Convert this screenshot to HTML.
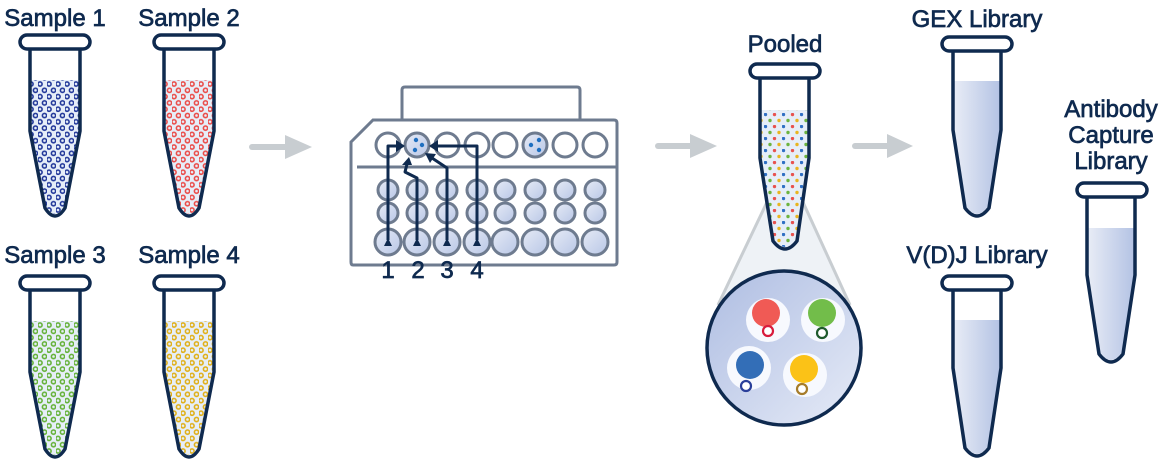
<!DOCTYPE html>
<html><head><meta charset="utf-8"><style>
html,body{margin:0;padding:0;background:#fff;}
svg{display:block;}
text{font-family:"Liberation Sans",sans-serif;fill:#0f2a4f;stroke:#0f2a4f;stroke-width:0.7;}
</style></head><body>
<svg width="1167" height="461" viewBox="0 0 1167 461" xmlns="http://www.w3.org/2000/svg">
<defs>
  <pattern id="pb" width="9" height="12.6" patternUnits="userSpaceOnUse" x="2" y="81">
    <circle cx="2" cy="3" r="2.1" fill="none" stroke="#23399a" stroke-width="1.6"/>
    <circle cx="6.5" cy="9.3" r="2.1" fill="none" stroke="#23399a" stroke-width="1.6"/>
  </pattern>
  <pattern id="pr" width="9" height="12.6" patternUnits="userSpaceOnUse" x="2" y="81">
    <circle cx="2" cy="3" r="2.1" fill="none" stroke="#ea4d4a" stroke-width="1.6"/>
    <circle cx="6.5" cy="9.3" r="2.1" fill="none" stroke="#ea4d4a" stroke-width="1.6"/>
  </pattern>
  <pattern id="pg" width="9" height="12.6" patternUnits="userSpaceOnUse" x="2" y="322">
    <circle cx="2" cy="3" r="2.1" fill="none" stroke="#66b23a" stroke-width="1.6"/>
    <circle cx="6.5" cy="9.3" r="2.1" fill="none" stroke="#66b23a" stroke-width="1.6"/>
  </pattern>
  <pattern id="py" width="9" height="12.6" patternUnits="userSpaceOnUse" x="2" y="322">
    <circle cx="2" cy="3" r="2.1" fill="none" stroke="#e0b01a" stroke-width="1.6"/>
    <circle cx="6.5" cy="9.3" r="2.1" fill="none" stroke="#e0b01a" stroke-width="1.6"/>
  </pattern>
  <pattern id="pp" width="18" height="12" patternUnits="userSpaceOnUse" x="764" y="113">
    <circle cx="1.5" cy="1.5" r="1.7" fill="#2f6fc4"/>
    <circle cx="10.5" cy="1.5" r="1.7" fill="#e8524f"/>
    <circle cx="6" cy="7.5" r="1.7" fill="#6cb33f"/>
    <circle cx="15" cy="7.5" r="1.7" fill="#e8b521"/>
  </pattern>
  <linearGradient id="lib" x1="0" x2="1" y1="0" y2="0">
    <stop offset="0" stop-color="#e8ecf6"/><stop offset="1" stop-color="#b4c3e4"/>
  </linearGradient>
  <linearGradient id="well" x1="0" x2="1" y1="0" y2="1">
    <stop offset="0" stop-color="#e6ebf6"/><stop offset="1" stop-color="#b8c6e6"/>
  </linearGradient>
  <linearGradient id="circ" x1="0" x2="1" y1="0" y2="1">
    <stop offset="0" stop-color="#aebde2"/><stop offset="1" stop-color="#e6ebf7"/>
  </linearGradient>
</defs>

<g fill="#c8cdd1" stroke="#c8cdd1">
  <line x1="252" y1="147" x2="288" y2="147" stroke-width="6" stroke-linecap="round"/>
  <polygon points="285,135 312,147 285,159" stroke="none"/>
  <line x1="658" y1="146" x2="693" y2="146" stroke-width="6" stroke-linecap="round"/>
  <polygon points="690,134 717,146 690,158" stroke="none"/>
  <line x1="855" y1="146" x2="890" y2="146" stroke-width="6" stroke-linecap="round"/>
  <polygon points="887,134 913,146 887,158" stroke="none"/>
</g>

<text x="55" y="26" font-size="24" text-anchor="middle">Sample 1</text>
<text x="189" y="26" font-size="24" text-anchor="middle">Sample 2</text>
<text x="55" y="263" font-size="24" text-anchor="middle">Sample 3</text>
<text x="189" y="263" font-size="24" text-anchor="middle">Sample 4</text>

<g>
  <path d="M31,80 L79,80 L79,131 L64,206 Q55,222 46,206 L31,131 Z" fill="#e6eef8"/>
  <path d="M31,80 L79,80 L79,131 L64,206 Q55,222 46,206 L31,131 Z" fill="url(#pb)"/>
  <path d="M30,48 L30,131 L45,208 Q55,224 65,208 L80,131 L80,48" fill="none" stroke="#0f2a4f" stroke-width="3.5" stroke-linejoin="round"/>
  <rect x="20" y="35" width="70" height="14" rx="7" fill="#fff" stroke="#0f2a4f" stroke-width="3.5"/>
</g>
<g transform="translate(134,0)">
  <path d="M31,80 L79,80 L79,131 L64,206 Q55,222 46,206 L31,131 Z" fill="#e6eef8"/>
  <path d="M31,80 L79,80 L79,131 L64,206 Q55,222 46,206 L31,131 Z" fill="url(#pr)"/>
  <path d="M30,48 L30,131 L45,208 Q55,224 65,208 L80,131 L80,48" fill="none" stroke="#0f2a4f" stroke-width="3.5" stroke-linejoin="round"/>
  <rect x="20" y="35" width="70" height="14" rx="7" fill="#fff" stroke="#0f2a4f" stroke-width="3.5"/>
</g>
<g>
  <path d="M31,321 L79,321 L79,372 L64,447 Q55,463 46,447 L31,372 Z" fill="#e6eef8"/>
  <path d="M31,321 L79,321 L79,372 L64,447 Q55,463 46,447 L31,372 Z" fill="url(#pg)"/>
  <path d="M30,289 L30,372 L45,449 Q55,465 65,449 L80,372 L80,289" fill="none" stroke="#0f2a4f" stroke-width="3.5" stroke-linejoin="round"/>
  <rect x="20" y="276" width="70" height="14" rx="7" fill="#fff" stroke="#0f2a4f" stroke-width="3.5"/>
</g>
<g transform="translate(134,0)">
  <path d="M31,321 L79,321 L79,372 L64,447 Q55,463 46,447 L31,372 Z" fill="#e6eef8"/>
  <path d="M31,321 L79,321 L79,372 L64,447 Q55,463 46,447 L31,372 Z" fill="url(#py)"/>
  <path d="M30,289 L30,372 L45,449 Q55,465 65,449 L80,372 L80,289" fill="none" stroke="#0f2a4f" stroke-width="3.5" stroke-linejoin="round"/>
  <rect x="20" y="276" width="70" height="14" rx="7" fill="#fff" stroke="#0f2a4f" stroke-width="3.5"/>
</g>

<g stroke="#6e7b8f" stroke-width="3" fill="none">
  <path d="M402,120 L402,90 Q402,87 405,87 L577,87 Q580,87 580,90 L580,120"/>
  <path d="M351,142 L373,120 L614,120 Q617,120 617,123 L617,262 Q617,265 614,265 L353,265 Q351,265 351,262 Z" fill="#fff"/>
  <line x1="357" y1="167" x2="617" y2="167"/>
  <g fill="#fff">
    <circle cx="388" cy="145" r="12"/><circle cx="447" cy="145" r="12"/><circle cx="477" cy="145" r="12"/>
    <circle cx="505" cy="145" r="12"/><circle cx="565" cy="145" r="12"/><circle cx="595" cy="145" r="12"/>
  </g>
  <g fill="url(#well)">
    <circle cx="417" cy="145" r="12"/><circle cx="535" cy="145" r="12"/>
    <circle cx="388" cy="190" r="10"/><circle cx="417" cy="190" r="10"/><circle cx="447" cy="190" r="10"/><circle cx="477" cy="190" r="10"/>
    <circle cx="505" cy="190" r="10"/><circle cx="535" cy="190" r="10"/><circle cx="565" cy="190" r="10"/><circle cx="595" cy="190" r="10"/>
    <circle cx="388" cy="213" r="10"/><circle cx="417" cy="213" r="10"/><circle cx="447" cy="213" r="10"/><circle cx="477" cy="213" r="10"/>
    <circle cx="505" cy="213" r="10"/><circle cx="535" cy="213" r="10"/><circle cx="565" cy="213" r="10"/><circle cx="595" cy="213" r="10"/>
    <circle cx="388" cy="242" r="13"/><circle cx="417" cy="242" r="13"/><circle cx="447" cy="242" r="13"/><circle cx="477" cy="242" r="13"/>
    <circle cx="505" cy="242" r="13"/><circle cx="535" cy="242" r="13"/><circle cx="565" cy="242" r="13"/><circle cx="595" cy="242" r="13"/>
  </g>
</g>
<g fill="#1f6fc0">
  <circle cx="416" cy="140" r="2.2"/><circle cx="422" cy="145" r="2.2"/><circle cx="415" cy="150" r="2.2"/>
  <circle cx="539" cy="140" r="2.2"/><circle cx="531" cy="145" r="2.2"/><circle cx="539" cy="150" r="2.2"/>
</g>
<g stroke="#0f2a4f" stroke-width="3" fill="none" stroke-linejoin="round">
  <path d="M388,240 L388,146 L398,146"/>
  <path d="M417,240 L417,178 L405,172 L407,164"/>
  <path d="M447,240 L447,168 L432,158"/>
  <path d="M477,240 L477,146 L436,146"/>
</g>
<g fill="#0f2a4f">
  <polygon points="384,246 392,246 388,238"/><polygon points="413,246 421,246 417,238"/>
  <polygon points="443,246 451,246 447,238"/><polygon points="473,246 481,246 477,238"/>
  <polygon points="396,140 396,152 405,146"/>
  <polygon points="438,140 438,152 429,146"/>
  <polygon points="402,165 412,165 409,157"/>
  <polygon points="430,163 436,154 425,153"/>
</g>
<g font-size="24" text-anchor="middle">
  <text x="388" y="278">1</text><text x="418" y="278">2</text><text x="447" y="278">3</text><text x="477" y="278">4</text>
</g>

<text x="785" y="52" font-size="24" text-anchor="middle">Pooled</text>
<polygon points="768,200 802,200 850,305 718,305" fill="#eef2f6"/>
<line x1="768" y1="200" x2="718" y2="305" stroke="#c8cdd1" stroke-width="3"/>
<line x1="802" y1="200" x2="850" y2="305" stroke="#c8cdd1" stroke-width="3"/>
<path d="M761,110 L808,110 L808,158 L796,240 Q785,254 774,240 L761,158 Z" fill="#e6eef8"/>
<path d="M761,110 L808,110 L808,158 L796,240 Q785,254 774,240 L761,158 Z" fill="url(#pp)"/>
<path d="M760,78 L760,158 L773,241 Q785,257 797,241 L809,158 L809,78" fill="none" stroke="#0f2a4f" stroke-width="3.5" stroke-linejoin="round"/>
<rect x="750" y="64" width="70" height="14" rx="7" fill="#fff" stroke="#0f2a4f" stroke-width="3.5"/>
<circle cx="784" cy="348" r="77" fill="url(#circ)" stroke="#0f2a4f" stroke-width="3.5"/>
<g fill="#f7f9fe">
  <circle cx="768" cy="320" r="22"/><circle cx="823" cy="320" r="22"/>
  <circle cx="749" cy="368" r="22"/><circle cx="805" cy="375" r="22"/>
</g>
<circle cx="766" cy="313" r="14" fill="#f05a55"/>
<circle cx="768" cy="331" r="5" fill="#fff" stroke="#d81b3c" stroke-width="2.2"/>
<circle cx="822" cy="313" r="14" fill="#72bd4a"/>
<circle cx="822" cy="333" r="5" fill="#fff" stroke="#1e5a2c" stroke-width="2.2"/>
<circle cx="750" cy="365" r="14" fill="#336eb7"/>
<circle cx="746" cy="386" r="5" fill="#fff" stroke="#2a3f9a" stroke-width="2.2"/>
<circle cx="804" cy="369" r="14" fill="#fbc217"/>
<circle cx="802" cy="389" r="5" fill="#fff" stroke="#a67c2a" stroke-width="2.2"/>

<text x="977" y="27" font-size="24" text-anchor="middle">GEX Library</text>
<path d="M954,81 L1000,81 L1000,130 L988,206 Q977,222 966,206 L954,130 Z" fill="url(#lib)"/>
<path d="M953,50 L953,130 L965,208 Q977,224 989,208 L1001,130 L1001,50" fill="none" stroke="#0f2a4f" stroke-width="3.5" stroke-linejoin="round"/>
<rect x="942" y="37" width="70" height="14" rx="7" fill="#fff" stroke="#0f2a4f" stroke-width="3.5"/>

<text x="977" y="263" font-size="24" text-anchor="middle">V(D)J Library</text>
<path d="M954,320 L1000,320 L1000,368 L988,446 Q977,462 966,446 L954,368 Z" fill="url(#lib)"/>
<path d="M953,289 L953,368 L965,448 Q977,464 989,448 L1001,368 L1001,289" fill="none" stroke="#0f2a4f" stroke-width="3.5" stroke-linejoin="round"/>
<rect x="942" y="276" width="70" height="14" rx="7" fill="#fff" stroke="#0f2a4f" stroke-width="3.5"/>

<g font-size="24" text-anchor="middle">
  <text x="1111" y="117">Antibody</text>
  <text x="1111" y="143">Capture</text>
  <text x="1111" y="169">Library</text>
</g>
<path d="M1088,228 L1134,228 L1134,275 L1122,352 Q1111,368 1100,352 L1088,275 Z" fill="url(#lib)"/>
<path d="M1087,196 L1087,275 L1099,354 Q1111,370 1123,354 L1135,275 L1135,196" fill="none" stroke="#0f2a4f" stroke-width="3.5" stroke-linejoin="round"/>
<rect x="1077" y="183" width="70" height="14" rx="7" fill="#fff" stroke="#0f2a4f" stroke-width="3.5"/>
</svg>
</body></html>
